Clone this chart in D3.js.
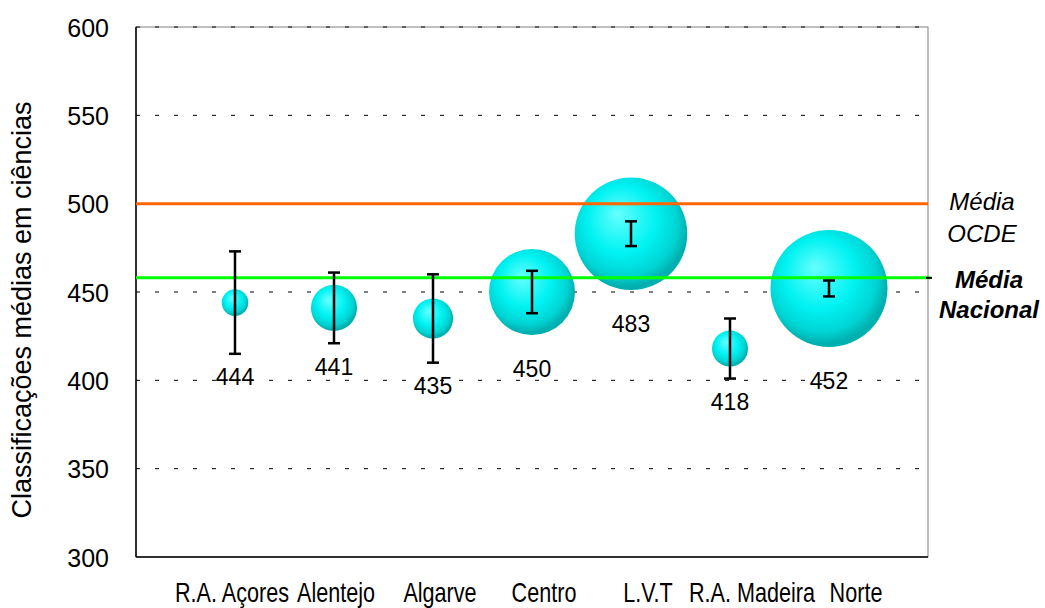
<!DOCTYPE html>
<html>
<head>
<meta charset="utf-8">
<script src="https://cdn.jsdelivr.net/npm/d3@7"></script>
<style>
  body { margin: 0; background: #fff; }
  text { font-family: "Liberation Sans", Arial, sans-serif; fill: #000; }
</style>
</head>
<body>
<div id="chart"></div>
<script>
// Dati
const regions = ["R.A. Açores", "Alentejo", "Algarve", "Centro", "L.V.T", "R.A. Madeira", "Norte"];
const means = [444, 441, 435, 450, 483, 418, 452];
const errors = [29, 20, 25, 12, 7, 17, 4.5];
const sizes = [1.8, 5.4, 4.1, 18.8, 32.2, 3.3, 34.8];
const yTicks = [300, 350, 400, 450, 500, 550, 600];
const mediaOCDE = 500;
const mediaNacional = 458;

const width = 1045;
const height = 608;
const plot = { left: 136, right: 928, top: 27, bottom: 557 };

const svg = d3.select("#chart").append("svg")
  .attr("width", width)
  .attr("height", height);

const x = d3.scalePoint().domain(regions).range([plot.left, plot.right]).padding(1);
const xLabel = d3.scalePoint().domain(regions).range([232, 856]);
const y = d3.scaleLinear().domain([300, 600]).range([plot.bottom, plot.top]);
const r = d3.scaleSqrt().domain([0, d3.max(sizes)]).range([0, 58.5]);

// gradiente bolle
const grad = svg.append("defs").append("radialGradient")
  .attr("id", "bolla")
  .attr("cx", "45%").attr("cy", "42%").attr("r", "55%")
  .attr("fx", "38%").attr("fy", "32%");
grad.append("stop").attr("offset", "0%").attr("stop-color", "#66ffff");
grad.append("stop").attr("offset", "55%").attr("stop-color", "#00f2f2");
grad.append("stop").attr("offset", "85%").attr("stop-color", "#00d4d4");
grad.append("stop").attr("offset", "100%").attr("stop-color", "#00b0b0");

// bordo area grafico
svg.append("rect")
  .attr("x", plot.left).attr("y", plot.top)
  .attr("width", plot.right - plot.left).attr("height", plot.bottom - plot.top)
  .attr("fill", "none").attr("stroke", "#808080").attr("stroke-width", 1);

// griglia
svg.append("g")
  .selectAll("line")
  .data(yTicks.filter(t => t > 300))
  .join("line")
  .attr("x1", plot.left).attr("x2", plot.right)
  .attr("y1", d => y(d)).attr("y2", d => y(d))
  .attr("stroke", "#000").attr("stroke-width", 1)
  .attr("stroke-dasharray", "4,15");

// assi
svg.append("line")
  .attr("x1", plot.left).attr("x2", plot.left)
  .attr("y1", plot.top).attr("y2", plot.bottom)
  .attr("stroke", "#000").attr("stroke-width", 1.5);
svg.append("line")
  .attr("x1", plot.left).attr("x2", plot.right)
  .attr("y1", plot.bottom).attr("y2", plot.bottom)
  .attr("stroke", "#000").attr("stroke-width", 1.5);

const yAxis = svg.append("g")
  .attr("transform", `translate(${plot.left},0)`)
  .call(d3.axisLeft(y).tickValues(yTicks).tickSize(0).tickPadding(27));
yAxis.select(".domain").remove();
yAxis.selectAll("text")
  .style("font-family", "'Liberation Sans', Arial, sans-serif")
  .style("font-size", "25px")
  .attr("dy", "0.36em");

svg.append("text")
  .attr("transform", "translate(31,310) rotate(-90)")
  .attr("text-anchor", "middle")
  .style("font-size", "27px")
  .text("Classificações médias em ciências");

// etichette categorie
svg.append("g")
  .selectAll("text")
  .data(regions)
  .join("text")
  .attr("transform", d => `translate(${xLabel(d)},602) scale(0.8,1)`)
  .attr("text-anchor", "middle")
  .style("font-size", "27px")
  .text(d => d);

const data = regions.map((d, i) => ({ region: d, mean: means[i], err: errors[i], size: sizes[i] }));

// bolle
svg.append("g")
  .selectAll("circle")
  .data(data)
  .join("circle")
  .attr("cx", d => x(d.region))
  .attr("cy", d => y(d.mean))
  .attr("r", d => r(d.size))
  .attr("fill", "url(#bolla)");

// linee medie
svg.append("line")
  .attr("x1", plot.left).attr("x2", plot.right)
  .attr("y1", y(mediaOCDE)).attr("y2", y(mediaOCDE))
  .attr("stroke", "#ff6600").attr("stroke-width", 3);
svg.append("line")
  .attr("x1", plot.left).attr("x2", plot.right + 2)
  .attr("y1", y(mediaNacional)).attr("y2", y(mediaNacional))
  .attr("stroke", "#00ff00").attr("stroke-width", 3);
svg.append("line")
  .attr("x1", plot.right - 2).attr("x2", plot.right + 4)
  .attr("y1", y(mediaNacional)).attr("y2", y(mediaNacional))
  .attr("stroke", "#000").attr("stroke-width", 2);

// barre di errore
const eb = svg.append("g")
  .selectAll("g")
  .data(data)
  .join("g")
  .attr("stroke", "#000").attr("stroke-width", 2.5);
eb.append("line")
  .attr("x1", d => x(d.region)).attr("x2", d => x(d.region))
  .attr("y1", d => y(d.mean + d.err)).attr("y2", d => y(d.mean - d.err));
eb.append("line")
  .attr("x1", d => x(d.region) - 6).attr("x2", d => x(d.region) + 6)
  .attr("y1", d => y(d.mean + d.err)).attr("y2", d => y(d.mean + d.err));
eb.append("line")
  .attr("x1", d => x(d.region) - 6).attr("x2", d => x(d.region) + 6)
  .attr("y1", d => y(d.mean - d.err)).attr("y2", d => y(d.mean - d.err));

// etichette valori
svg.append("g")
  .selectAll("text")
  .data(data)
  .join("text")
  .attr("x", d => x(d.region))
  .attr("y", d => Math.max(y(d.mean - d.err) + 23, y(d.mean) + r(d.size) + 34))
  .attr("dy", "0.36em")
  .attr("text-anchor", "middle")
  .style("font-size", "23px")
  .text(d => d3.format("d")(d.mean));

// legenda a destra
const leg = svg.append("g").attr("text-anchor", "middle");
leg.append("text").attr("x", 982).attr("y", 210).style("font-size", "24px").style("font-style", "italic").text("Média");
leg.append("text").attr("x", 982).attr("y", 242).style("font-size", "24px").style("font-style", "italic").text("OCDE");
leg.append("text").attr("x", 989).attr("y", 288).style("font-size", "24px").style("font-style", "italic").style("font-weight", "bold").text("Média");
leg.append("text").attr("x", 989).attr("y", 318).style("font-size", "24px").style("font-style", "italic").style("font-weight", "bold").text("Nacional");
</script>
</body>
</html>
